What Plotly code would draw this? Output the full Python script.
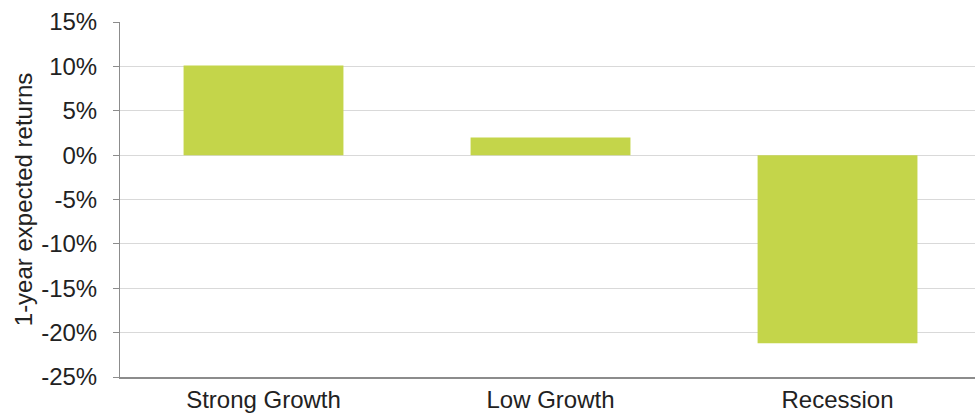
import plotly.graph_objects as go

categories = ["Strong Growth", "Low Growth", "Recession"]
returns_pct = [10.1, 2.0, -21.2]
y_ticks = [15, 10, 5, 0, -5, -10, -15, -20, -25]
y_tick_labels = [f"{v}%" for v in y_ticks]

fig = go.Figure()
fig.add_trace(go.Bar(
    x=categories, y=returns_pct,
    marker=dict(color="#c4d54a", line=dict(width=0)),
    width=0.557,
))

font = "Liberation Sans, Arial, sans-serif"
fig.update_layout(
    width=975, height=413,
    margin=dict(l=120, r=0, t=22, b=36),
    paper_bgcolor="white", plot_bgcolor="white",
    showlegend=False,
    font=dict(family=font, size=24, color="#222222"),
    xaxis=dict(
        range=[-0.5, 2.479],
        showline=True, linecolor="#8c8c8c", linewidth=1.5,
        showgrid=False, ticks="", tickfont=dict(size=24, color="#222222"),
        ticklabelstandoff=0,
    ),
    yaxis=dict(
        range=[-25, 15], tickvals=y_ticks, ticktext=y_tick_labels,
        showline=True, linecolor="#8c8c8c", linewidth=1,
        ticks="outside", ticklen=6, tickcolor="#8c8c8c",
        showgrid=True, gridcolor="#d9d9d9", gridwidth=1,
        zeroline=False,
        tickfont=dict(size=24, color="#222222"),
        ticklabelstandoff=11,
        title=dict(text="1-year expected returns", font=dict(size=24, color="#222222"), standoff=1),
    ),
)

fig.write_html("out.html", config={"displayModeBar": False},
               post_script="document.body.style.margin='0';document.body.style.overflow='hidden';")
